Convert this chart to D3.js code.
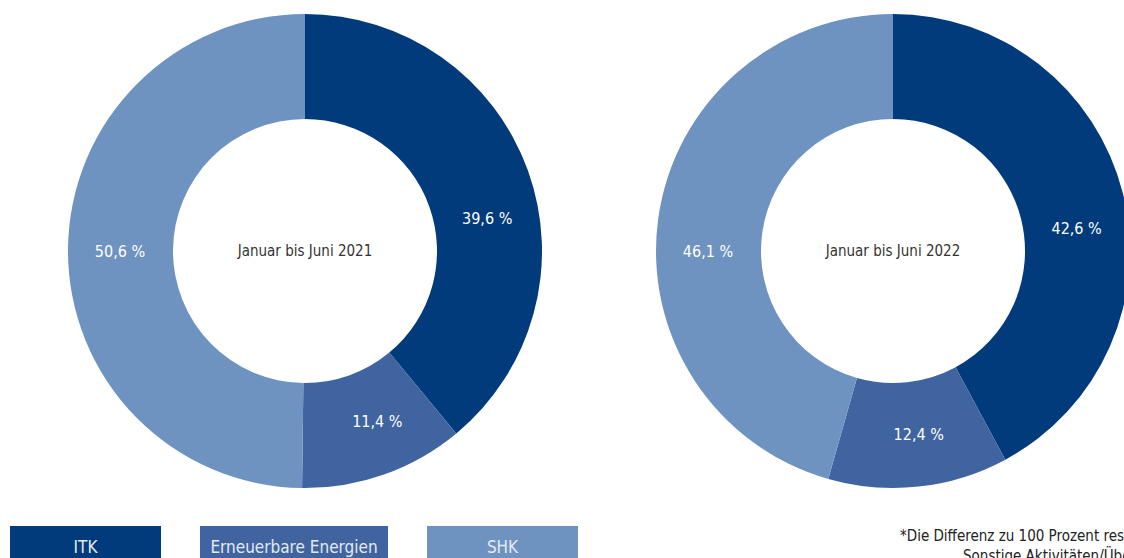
<!DOCTYPE html>
<html><head><meta charset="utf-8">
<script src="https://cdn.jsdelivr.net/npm/d3@7"></script>
<style>
html,body{margin:0;padding:0;background:#fff;overflow:hidden}
svg{display:block}
text{font-family:"DejaVu Sans Condensed","Liberation Sans Narrow",sans-serif}
</style></head><body>
<svg id="c" width="1124" height="558"></svg>
<script>
const categories = ["ITK", "Erneuerbare Energien", "SHK"];
const periods = ["Januar bis Juni 2021", "Januar bis Juni 2022"];
const values2021 = [39.6, 11.4, 50.6];
const values2022 = [42.6, 12.4, 46.1];
const footnote = ["*Die Differenz zu 100 Prozent resultiert aus", "Sonstige Aktivitäten/Übergreifend"];

const colors = ["#023b7c", "#3f64a0", "#6e93c0"];
const svg = d3.select("#c");
const outerR = 237, innerR = 132, labelR = 185;
const donuts = [
  {cx: 305, cy: 251, values: values2021, title: periods[0], labelAngles: [80, 157, 270]},
  {cx: 893, cy: 251, values: values2022, title: periods[1], labelAngles: [83, 172, 270]}
];
const pie = d3.pie().sort(null).value(d => d);
const arc = d3.arc().innerRadius(innerR).outerRadius(outerR);
const fmt = v => d3.format(".1f")(v).replace(".", ",") + " %";

donuts.forEach(dn => {
  const g = svg.append("g").attr("transform", `translate(${dn.cx},${dn.cy})`);
  const arcs = pie(dn.values);
  g.selectAll("path").data(arcs).join("path")
    .attr("d", arc).attr("fill", (d, i) => colors[i]);
  g.selectAll("text.lbl").data(arcs).join("text").attr("class", "lbl")
    .attr("x", (d, i) => Math.sin(dn.labelAngles[i] * Math.PI / 180) * labelR)
    .attr("y", (d, i) => -Math.cos(dn.labelAngles[i] * Math.PI / 180) * labelR)
    .attr("dy", "0.35em")
    .attr("text-anchor", "middle")
    .attr("fill", "#ffffff").attr("font-size", 16)
    .text(d => fmt(d.data));
  g.append("text").attr("text-anchor", "middle").attr("dy", "0.35em")
    .attr("fill", "#333").attr("font-size", 15).text(dn.title);
});

const legendX = d3.scaleOrdinal().domain(categories).range([10, 200, 427]);
const legendW = [151, 188, 151];
const lg = svg.append("g");
categories.forEach((c, i) => {
  lg.append("rect").attr("x", legendX(c)).attr("y", 526).attr("width", legendW[i]).attr("height", 40).attr("fill", colors[i]);
  lg.append("text").attr("x", legendX(c) + legendW[i] / 2).attr("y", 553)
    .attr("text-anchor", "middle").attr("fill", "#e4eaf3").attr("font-size", 17).text(c);
});
svg.append("text").attr("x", 900).attr("y", 541).attr("fill", "#222").attr("font-size", 15).text(footnote[0]);
svg.append("text").attr("x", 963).attr("y", 561).attr("fill", "#222").attr("font-size", 15).text(footnote[1]);
</script></body></html>
